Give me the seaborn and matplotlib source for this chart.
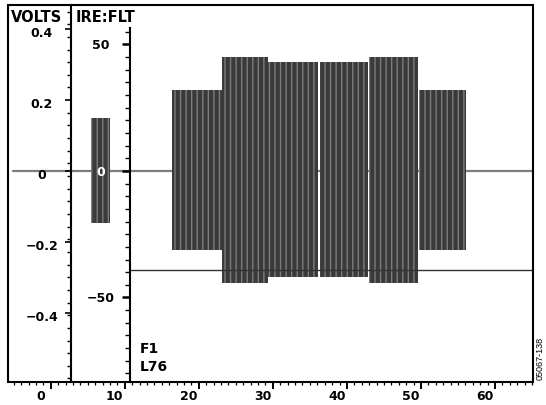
import matplotlib.pyplot as plt
from matplotlib.ticker import MultipleLocator, FixedLocator
from matplotlib.patches import Rectangle
from matplotlib.transforms import ScaledTranslation
import seaborn as sns

# scope trace: time in us, level in IRE
baseline_t = [-5.1, 65.2]
baseline_ire = [0, 0]
cursor_t = [10.64, 65.2]
cursor_ire = [-39, -39]

# colour burst + multiburst packets (envelope of each packet)
pkt_start = [5.44, 16.38, 23.13, 29.34, 36.36, 42.98, 49.73]
pkt_end = [8.01, 23.13, 29.34, 36.09, 42.84, 49.60, 56.08]
pkt_top = [20.9, 32.0, 45.1, 43.1, 43.1, 45.1, 32.0]
pkt_bottom = [-20.6, -31.2, -44.3, -41.9, -41.9, -44.3, -31.2]

time_ticks = [0, 10, 20, 30, 40, 50, 60]
ire_ticks = [-50, 0, 50]
ire_labels = ["\u221250", "0", "50"]
volt_ticks = [-0.4, -0.2, 0, 0.2, 0.4]
volt_labels = ["\u22120.4", "\u22120.2", "0", "0.2", "0.4"]

IRE_PER_VOLT = 140
x_lim = (-5.77, 65.13)
y_lim = (-83.4, 65.6)
volt_axis_t = 2.74
ire_axis_t = 10.64

sns.set_theme(style="ticks", rc={"axes.edgecolor": "black", "xtick.color": "black",
                                 "ytick.color": "black", "text.color": "black"})
plt.rcParams["font.family"] = ["DejaVu Sans"]
plt.rcParams["font.weight"] = "bold"
plt.rcParams["hatch.linewidth"] = 1.0
plt.rcParams["hatch.color"] = "#7c7c7c"

fig = plt.figure(figsize=(5.46, 4.05), dpi=100)
rect = [8 / 546, 23 / 405, 525 / 546, 377 / 405]
ax = fig.add_axes(rect)
ax_v = fig.add_axes(rect)

# trace (kept below the axis so the white "0" label stays on top)
sns.lineplot(x=baseline_t, y=baseline_ire, ax=ax, color="#7d7d7d", lw=1.6, zorder=1)
for s, e, t, b in zip(pkt_start, pkt_end, pkt_top, pkt_bottom):
    ax.fill_between([s, e], [t, t], [b, b], facecolor="#3a3a3a", edgecolor="#7c7c7c",
                    hatch="|||", linewidth=0, zorder=1.5)
sns.lineplot(x=cursor_t, y=cursor_ire, ax=ax, color="#333333", lw=1.0, zorder=1.6)
ax.set_axisbelow(False)

ax.set_xlim(x_lim)
ax.set_ylim(y_lim)
for side in ["top", "right", "bottom"]:
    ax.spines[side].set_visible(False)
ax.spines["left"].set_position(("data", ire_axis_t))
ax.spines["left"].set_bounds(y_lim[0], 56.5)
ax.spines["left"].set_linewidth(1.5)

# time axis
ax.xaxis.set_major_locator(FixedLocator(time_ticks))
ax.set_xticklabels([str(v) for v in time_ticks])
ax.xaxis.set_minor_locator(MultipleLocator(1))
ax.tick_params(axis="x", which="major", direction="out", length=5, width=1.4, pad=1, labelsize=9)
ax.tick_params(axis="x", which="minor", direction="out", length=2.5, width=0.9)
shift = ScaledTranslation(-10 / 100, 0, fig.dpi_scale_trans)
for lbl in ax.get_xticklabels():
    lbl.set_transform(lbl.get_transform() + shift)

# IRE axis
ax.yaxis.set_major_locator(FixedLocator(ire_ticks))
ax.set_yticklabels(ire_labels)
ax.yaxis.set_minor_locator(FixedLocator(range(-80, 60, 5)))
ax.tick_params(axis="y", which="major", direction="out", length=5.5, width=1.8, pad=15, labelsize=9)
ax.tick_params(axis="y", which="minor", direction="out", length=3.6, width=1.0)
for lbl in ax.get_yticklabels():
    lbl.set_horizontalalignment("center")
ax.get_yticklabels()[1].set_color("white")
ax.set_xlabel("")
ax.set_ylabel("")

# volt axis
ax_v.set_xlim(x_lim)
ax_v.set_ylim(y_lim[0] / IRE_PER_VOLT, y_lim[1] / IRE_PER_VOLT)
ax_v.patch.set_visible(False)
for side in ["top", "right", "bottom"]:
    ax_v.spines[side].set_visible(False)
ax_v.spines["left"].set_position(("data", volt_axis_t))
ax_v.spines["left"].set_linewidth(1.5)
ax_v.tick_params(axis="x", which="both", bottom=False, labelbottom=False)
ax_v.yaxis.set_major_locator(FixedLocator(volt_ticks))
ax_v.set_yticklabels(volt_labels)
ax_v.yaxis.set_minor_locator(MultipleLocator(5 / IRE_PER_VOLT, offset=28 / IRE_PER_VOLT))
ax_v.tick_params(axis="y", which="major", direction="out", length=4.5, width=1.2, pad=16.4, labelsize=9)
ax_v.tick_params(axis="y", which="minor", direction="out", length=3.2, width=1.0)
down = ScaledTranslation(0, -3 / 100, fig.dpi_scale_trans)
for lbl in ax_v.get_yticklabels():
    lbl.set_horizontalalignment("center")
    lbl.set_transform(lbl.get_transform() + down)

# outer frame
ax.add_patch(Rectangle((0, 0), 1, 1, transform=ax.transAxes, fill=False, lw=1.5,
                       edgecolor="black", clip_on=False, zorder=5))

fig.text(11 / 546, 1 - 17 / 405, "VOLTS", fontsize=10.5, fontweight="bold", va="center")
fig.text(76 / 546, 1 - 17 / 405, "IRE:FLT", fontsize=10.5, fontweight="bold", va="center")
fig.text(140 / 546, 1 - 349 / 405, "F1", fontsize=10, fontweight="bold", va="center")
fig.text(140 / 546, 1 - 367 / 405, "L76", fontsize=10, fontweight="bold", va="center")
fig.text(540 / 546, 1 - 358 / 405, "05067-138", fontsize=6.5, fontweight="normal",
         family="Liberation Sans", rotation=90, ha="center", va="center")

fig.savefig("out.png", dpi=100)
